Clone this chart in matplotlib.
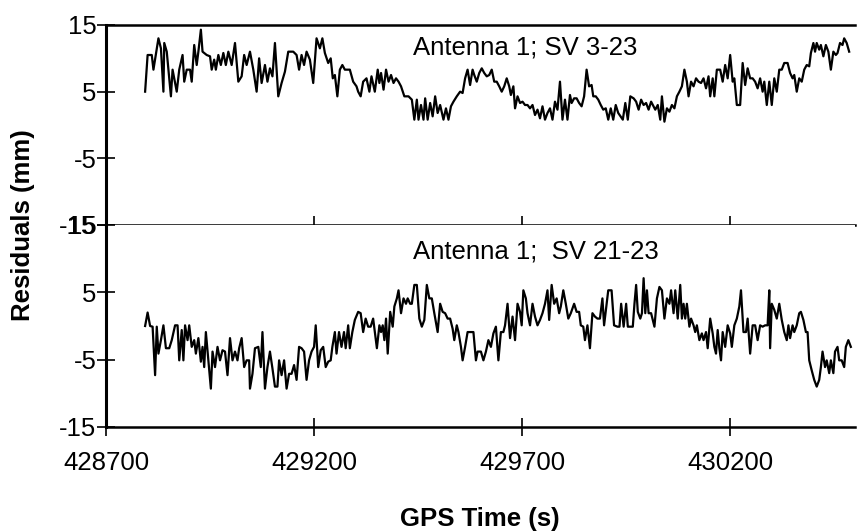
import numpy as np
import matplotlib
matplotlib.use('Agg')
import matplotlib.pyplot as plt

plt.rcParams['font.family'] = ['Liberation Sans', 'DejaVu Sans']
plt.rcParams['axes.unicode_minus'] = False

# Antenna 1; SV 3-23 (top panel)
t_top = [428794, 428800, 428810, 428814, 428826, 428832, 428838, 428840, 428846, 428856,
         428860, 428866, 428870, 428876, 428884, 428888, 428894, 428902, 428906, 428912,
         428918, 428922, 428928, 428932, 428942, 428950, 428954, 428960, 428964, 428970,
         428976, 428982, 428988, 428994, 429002, 429010, 429018, 429026, 429032, 429038,
         429046, 429054, 429062, 429068, 429074, 429082, 429088, 429094, 429100, 429106,
         429114, 429122, 429130, 429138, 429150, 429158, 429164, 429170, 429176, 429182,
         429190, 429198, 429206, 429214, 429220, 429226, 429234, 429240, 429245, 429250,
         429256, 429262, 429268, 429274, 429286, 429294, 429302, 429306, 429312, 429318,
         429326, 429333, 429338, 429346,
         429353, 429357, 429361, 429367, 429373, 429379, 429385, 429391, 429397, 429403,
         429409, 429417, 429427, 429435, 429441, 429447, 429451, 429457, 429463, 429467,
         429473, 429479, 429485, 429491, 429497, 429503, 429511, 429517, 429523, 429529,
         429535, 429543, 429551, 429557, 429563, 429569, 429575, 429581, 429585, 429591,
         429597, 429603, 429609, 429615, 429621, 429627, 429633, 429639, 429645, 429651,
         429657, 429663, 429669, 429673, 429679, 429683, 429689, 429695, 429701, 429707,
         429713, 429719, 429725, 429731, 429737, 429743, 429749, 429755, 429761, 429767,
         429773, 429779, 429785, 429791, 429797, 429803, 429809, 429815, 429819, 429825,
         429831, 429837, 429843, 429849, 429855, 429861, 429867, 429871, 429877, 429883,
         429889, 429895, 429901, 429907, 429913, 429919, 429925, 429931,
         429942, 429948, 429954, 429960, 429968, 429974, 429980, 429986, 429992, 429998,
         430004, 430010, 430016, 430020, 430026, 430032, 430036, 430042, 430048, 430054,
         430060, 430066, 430072, 430078, 430084, 430090, 430096, 430100, 430106, 430112,
         430118, 430124, 430130, 430136, 430142, 430148, 430152, 430158, 430162, 430168,
         430176, 430182, 430188, 430194, 430200, 430206, 430210, 430216, 430224, 430230,
         430236, 430242, 430248, 430254, 430260, 430266, 430272, 430278, 430282, 430288,
         430294, 430300, 430306, 430312, 430318, 430324, 430330, 430338, 430344, 430350,
         430354, 430360, 430366, 430372, 430378, 430384, 430390, 430394, 430400, 430404,
         430408, 430414, 430418, 430424, 430430, 430436, 430442, 430448, 430454, 430458,
         430464, 430470, 430474, 430480, 430486]
res_top = [5.0, 10.5, 10.5, 8.3, 13.0, 11.5, 5.0, 12.3, 11.0, 4.3,
           8.3, 6.3, 5.0, 8.3, 10.5, 6.5, 8.3, 8.3, 6.5, 12.0,
           9.0, 11.0, 14.3, 11.0, 10.5, 10.3, 8.3, 9.8, 8.3, 10.5,
           9.0, 10.8, 9.0, 11.0, 9.0, 12.3, 6.5, 7.3, 10.5, 9.0,
           11.0, 8.3, 5.0, 10.0, 6.3, 9.0, 6.5, 8.5, 7.3, 12.3,
           4.3, 6.3, 8.0, 11.0, 11.0, 10.5, 8.3, 10.5, 9.0, 11.0,
           9.8, 6.3, 13.0, 11.5, 13.0, 10.8, 9.3, 10.0, 7.0, 7.5,
           4.3, 8.3, 9.0, 8.3, 8.3, 6.5, 5.8, 5.0, 4.3, 6.5,
           7.0, 5.0, 7.3, 5.0,
           8.3, 6.3, 7.8, 5.3, 8.3, 6.5, 7.5, 6.3, 7.0, 6.5,
           5.8, 4.3, 4.3, 3.8, 0.8, 3.8, 0.8, 3.0, 0.8, 4.0,
           0.8, 3.3, 1.3, 4.3, 1.8, 3.0, 0.8, 2.5, 0.8, 2.8,
           3.5, 4.3, 5.0, 4.8, 7.0, 8.3, 6.0, 8.3, 7.5, 6.5,
           7.8, 8.5, 7.8, 7.3, 7.5, 8.3, 6.5, 6.5, 5.8, 5.0,
           5.8, 7.0, 5.8, 4.5, 5.8, 2.5, 4.3, 3.3, 3.5, 3.0,
           3.0, 2.5, 3.0, 1.5, 2.3, 1.0, 2.8, 0.8, 1.8, 2.5,
           0.8, 3.5, 2.3, 6.5, 0.8, 3.8, 0.8, 4.5, 3.3, 4.0,
           4.0, 3.3, 2.8, 4.3, 8.3, 5.8, 6.0, 4.3, 4.3, 3.8,
           3.0, 2.3, 2.5, 0.8, 2.5, 0.8, 3.0, 1.8,
           0.8, 3.3, 0.8, 4.3, 4.0, 3.5, 2.3, 3.8, 3.0, 3.3,
           2.3, 3.5, 2.8, 2.3, 3.0, 0.8, 4.3, 0.5, 2.5, 2.0,
           3.0, 2.5, 4.3, 5.0, 5.8, 8.3, 6.5, 4.3, 6.5, 5.8,
           7.0, 6.5, 6.3, 7.0, 5.5, 7.3, 4.3, 7.0, 4.3, 8.3,
           8.3, 6.5, 9.0, 7.0, 10.5, 6.5, 7.0, 3.0, 3.0, 9.3,
           6.0, 8.5, 7.0, 7.0, 6.5, 5.5, 7.0, 5.0, 6.5, 3.0,
           6.5, 3.0, 7.0, 5.0, 8.3, 8.3, 9.3, 9.3, 7.8, 7.0,
           7.5, 5.0, 7.0, 6.5, 8.3, 9.0, 8.8, 10.8, 12.3, 11.0,
           12.3, 11.3, 12.0, 10.3, 12.0, 11.0, 8.3, 11.0, 10.5, 10.8,
           12.3, 12.0, 13.0, 12.3, 11.0]

# Antenna 1; SV 21-23 (bottom panel)
t_bot = [428794, 428800, 428806, 428812, 428818, 428822, 428826, 428832, 428838, 428844,
         428852, 428858, 428866, 428872, 428876, 428882, 428886, 428890, 428896, 428900,
         428906, 428912, 428916, 428922, 428928, 428932, 428936, 428940, 428946, 428952,
         428956, 428962, 428968, 428974, 428980, 428986, 428992, 428998, 429004, 429010,
         429016, 429020, 429026, 429032, 429038, 429044, 429046, 429052, 429058, 429066,
         429072, 429076, 429082, 429088, 429094, 429100, 429106, 429112, 429116, 429122,
         429128, 429134, 429140, 429146, 429152, 429158, 429164, 429170, 429176, 429182,
         429188, 429194, 429200, 429204, 429210, 429216, 429222, 429228, 429234, 429240,
         429244, 429250, 429254, 429260, 429266, 429272, 429276, 429282, 429286, 429292,
         429298, 429306, 429312, 429318, 429324, 429330, 429336, 429342,
         429351, 429357, 429361, 429365, 429369, 429373, 429377, 429383, 429389, 429393,
         429399, 429403, 429409, 429415, 429421, 429425, 429431, 429435, 429441, 429447,
         429453, 429459, 429465, 429471, 429477, 429483, 429489, 429497, 429503, 429509,
         429515, 429521, 429527, 429533, 429537, 429543, 429547, 429553, 429557, 429563,
         429569, 429583, 429589, 429593, 429601, 429607, 429613, 429619, 429625, 429631,
         429637, 429643, 429649, 429655, 429659, 429665, 429671, 429677, 429683, 429689,
         429695, 429699, 429703, 429709, 429713, 429719, 429725, 429731, 429737, 429743,
         429749, 429755, 429761, 429765, 429771, 429777, 429783, 429789, 429793, 429799,
         429805, 429811, 429817, 429825, 429831, 429837, 429841, 429847, 429851, 429857,
         429863, 429869, 429875, 429881, 429887, 429893, 429897, 429903, 429907, 429915,
         429921, 429929,
         429934, 429938, 429944, 429950, 429954, 429960, 429966, 429970, 429974, 429978,
         429984, 429988, 429992, 429996, 430000, 430004, 430010, 430018, 430024, 430030,
         430036, 430042, 430048, 430054, 430058, 430064, 430068, 430074, 430080, 430084,
         430088, 430092, 430096, 430102, 430106, 430112, 430116, 430120, 430126, 430132,
         430136, 430142, 430146, 430152, 430158, 430162, 430166, 430170, 430174, 430178,
         430182, 430188, 430194, 430200, 430204, 430210, 430216, 430222, 430226, 430232,
         430238, 430242, 430248, 430254, 430260, 430266, 430272, 430278, 430284, 430290,
         430294, 430296, 430300, 430306, 430312, 430318, 430324, 430330, 430336, 430340,
         430344, 430350, 430354, 430360, 430366, 430370, 430376, 430382, 430386, 430390,
         430396, 430402, 430408, 430414, 430418, 430422, 430428, 430432, 430438, 430442,
         430448, 430452, 430458, 430462, 430468, 430474, 430478, 430484, 430490]
res_bot = [0.0, 2.0, 0.0, -0.1, -7.3, -0.1, -4.1, -2.1, 0.1, -3.3,
           -3.3, -2.1, 0.1, 0.1, -5.1, -0.6, -5.1, 0.1, -2.1, 0.1,
           -3.1, -2.1, -4.1, -1.8, -5.3, -3.1, -6.1, -0.9, -5.1, -9.3,
           -3.8, -6.1, -3.1, -5.1, -3.6, -3.8, -7.3, -1.8, -5.1, -3.8,
           -5.1, -3.3, -1.8, -6.1, -5.1, -5.1, -9.3, -7.1, -3.3, -3.1,
           -6.1, -0.9, -9.3, -6.1, -3.8, -6.3, -9.0, -9.0, -5.1, -7.3,
           -5.1, -9.3, -7.1, -7.1, -5.8, -8.0, -3.1, -3.3, -3.8, -8.0,
           -5.1, -3.8, -3.1, 0.1, -6.1, -3.6, -3.1, -6.1, -5.3, -5.1,
           -3.1, -0.9, -4.1, -0.9, -3.1, -0.9, -3.3, 0.1, -3.3, -0.9,
           0.9, 2.1, 1.9, -0.9, 1.1, -0.1, -0.1, 1.1,
           -3.3, 0.1, -0.9, 0.1, -2.1, 1.1, -4.1, 2.1, -0.1, 2.9,
           4.1, 5.3, 1.9, 4.1, 3.3, 4.1, 3.3, 3.3, 6.1, 6.1,
           1.1, -0.1, 0.9, 6.1, 4.1, 4.1, 1.9, -0.9, 3.3, 2.1,
           1.9, 1.1, 1.1, -0.4, -2.1, 0.1, -0.9, -3.1, -5.1, -3.1,
           -0.9, -0.9, -5.1, -3.8, -3.8, -5.1, -3.8, -2.1, -3.1, -1.1,
           -0.1, -5.1, -0.9, -0.9, 0.1, 3.3, -1.8, 1.4, -2.1, 3.3,
           2.1, 0.1, 5.3, 4.1, 1.9, 0.1, 3.3, 1.4, 0.1, 0.9,
           1.9, 3.3, 5.3, 0.9, 6.1, 3.3, 4.1, 1.9, 2.9, 5.3,
           3.3, 1.1, 1.9, 3.3, 2.1, 2.1, 0.1, -0.1, -2.1, 0.1,
           -3.3, 1.9, 1.4, 1.1, 1.1, 4.1, 0.1, 3.3, 5.3, 5.3,
           0.1, -0.1,
           -0.1, 3.3, -0.1, 3.3, -0.1, -0.1, -0.1, 3.3, 6.1, 2.1,
           1.1, 1.9, 7.1, 1.9, 5.3, 1.9, 1.9, -0.1, 4.1, 5.8,
           5.3, 1.1, 4.1, 3.3, 5.3, 1.9, 5.3, 1.1, 6.1, 1.1,
           3.3, 1.1, 3.3, -0.1, 1.1, 0.1, -0.9, 0.1, -2.1, -1.1,
           -2.1, -0.9, -3.3, 1.1, -1.1, -3.1, -4.1, -0.6, -3.3, -5.1,
           -0.9, -3.1, 0.1, -1.1, -3.1, 0.1, 1.1, 2.9, 5.3, -0.9,
           -0.9, 1.1, -4.1, 0.1, 0.1, -2.1, 0.1, -0.1, 0.1, 0.1,
           5.3, -3.3, 3.3, 2.4, 1.1, 3.3, 0.9, -0.9, -2.1, 0.1,
           -1.8, 0.1, -0.9, 0.1, 1.9, 2.1, 0.9, -0.9, -0.9, -5.1,
           -6.6, -8.0, -9.0, -8.0, -6.1, -3.8, -6.1, -5.1, -7.0, -5.1,
           -7.0, -3.8, -3.1, -5.1, -5.1, -6.1, -3.1, -2.1, -3.1]

y_ticks = [15, 5, -5, -15]
x_ticks = [428700, 429200, 429700, 430200]
labels = ['Antenna 1; SV 3-23', 'Antenna 1;  SV 21-23']

W, H = 862, 531
fig = plt.figure(figsize=(W / 100, H / 100), dpi=100)
ax1 = fig.add_axes([106 / W, 1 - 225 / H, 749 / W, 200 / H])
ax2 = fig.add_axes([106 / W, 1 - 427 / H, 749 / W, 202 / H])

fs = 18.5
for ax in (ax1, ax2):
    ax.set_xlim(428700, 430500)
    ax.set_ylim(-15, 15)
    ax.set_yticks(y_ticks)
    ax.set_xticks(x_ticks)
    ax.spines['right'].set_visible(False)
    ax.spines['left'].set_linewidth(2.2)
    ax.spines['top'].set_linewidth(1.8)
    ax.spines['bottom'].set_linewidth(1.8)
    ax.tick_params(axis='y', direction='inout', length=13, width=1.2, pad=0.5,
                   labelsize=fs)
    ax.tick_params(axis='x', direction='inout', length=13, width=1.2, pad=11,
                   labelsize=fs, top=False)

ax2.spines['top'].set_visible(False)
ax1.tick_params(axis='x', labelbottom=False)

ax1.plot(t_top, res_top, color='black', lw=1.6)
ax2.plot(t_bot, res_bot, color='black', lw=1.6)

ax1.text(429438, 11.7, labels[0], fontsize=fs, va='center', ha='left')
ax2.text(429438, 11.0, labels[1], fontsize=fs, va='center', ha='left')

fig.text(480 / W, 1 - 526 / H, 'GPS Time (s)', fontsize=fs, fontweight='bold',
         ha='center', va='baseline')
fig.text(23 / W, 1 - 225 / H, 'Residuals (mm)', fontsize=fs, fontweight='bold',
         ha='center', va='center', rotation=90)

fig.savefig('out.png', dpi=100)
